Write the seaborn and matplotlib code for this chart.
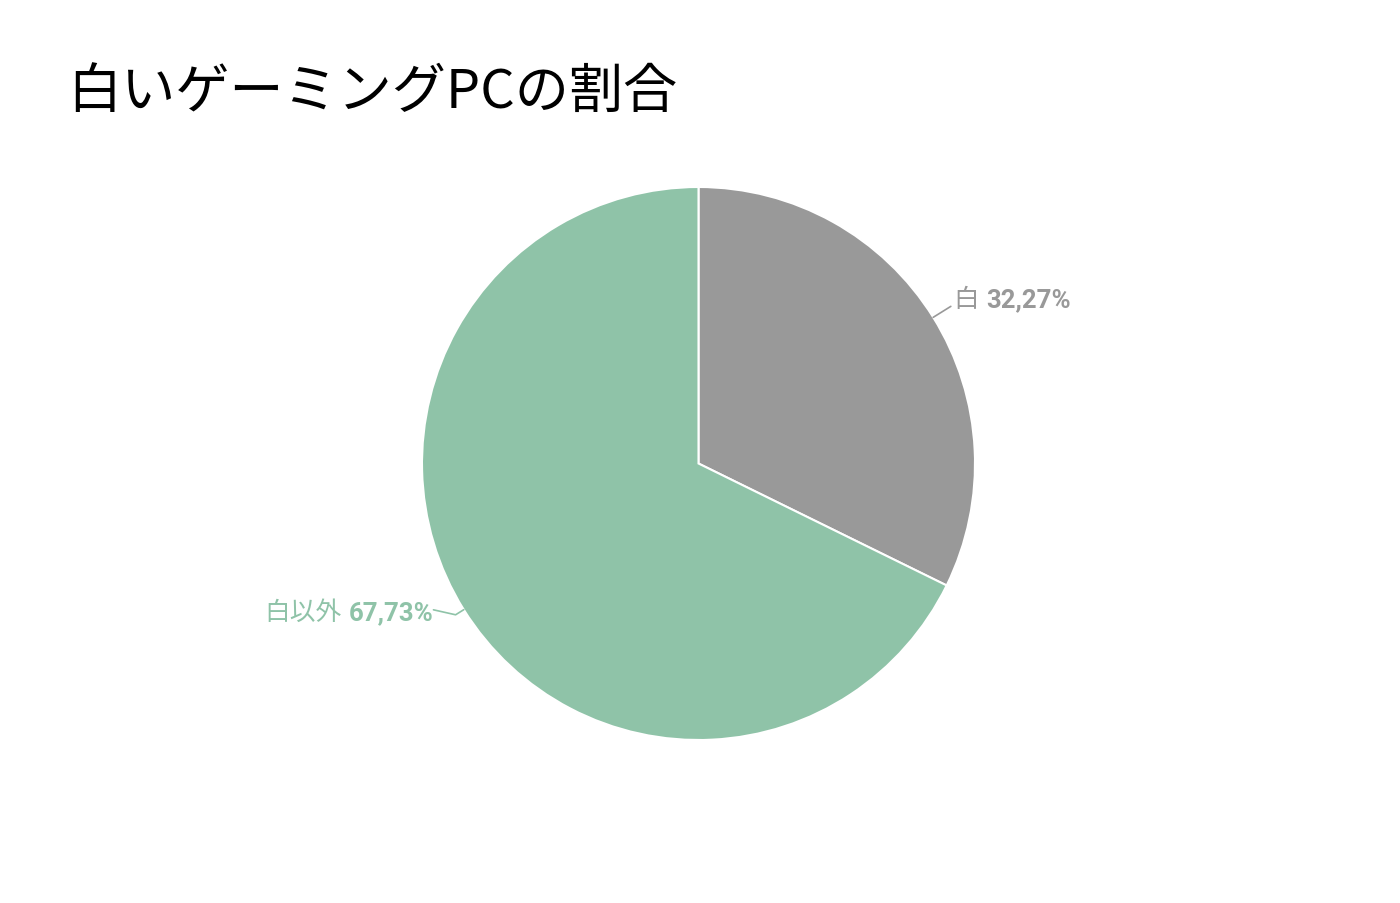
import numpy as np
import matplotlib
import matplotlib.pyplot as plt
import seaborn as sns

matplotlib.use('Agg')

# Data
labels = ['白', '白以外']
shares = [32.27, 67.73]
colors = ['#999999', '#8FC3A8']
title = '白いゲーミングPCの割合'

sns.set_theme(style='white')
plt.rcParams['font.family'] = ['Roboto', 'Noto Sans CJK JP', 'DejaVu Sans']

fig = plt.figure(figsize=(14, 9.04), dpi=100)
ax = fig.add_axes([422 / 1400, (904 - 741) / 904, 553 / 1400, 553 / 904])

wedges, _ = ax.pie(shares, colors=colors, startangle=90, counterclock=False,
                   wedgeprops=dict(edgecolor='white', linewidth=1.5))
ax.set_xlim(-1, 1)
ax.set_ylim(-1, 1)
ax.set_aspect('equal')
ax.axis('off')

lab_font = ['Roboto', 'Noto Sans CJK JP']
fs = 18.5

# Labels with leader lines
for w, lab, val, col in zip(wedges, labels, shares, colors):
    ang = np.deg2rad((w.theta1 + w.theta2) / 2)
    x0, y0 = np.cos(ang), np.sin(ang)
    pct = f'{val:.2f}%'.replace('.', ',')
    if x0 >= 0:
        x1, y1 = 1.075 * x0, 1.075 * y0
        ax.plot([x0, x1], [y0, y1], color=col, lw=1.2, clip_on=False)
        t1 = ax.annotate(lab, xy=(x1, y1), xytext=(2, 5), textcoords='offset points',
                         ha='left', va='center', color=col, fontsize=fs,
                         family=lab_font, annotation_clip=False)
        ax.annotate(pct, xy=(1, 0.5), xycoords=t1, xytext=(5, 0), textcoords='offset points',
                    ha='left', va='center', color=col, fontsize=fs, fontweight='bold',
                    family=lab_font)
    else:
        x1, y1 = 1.035 * x0, 1.035 * y0
        x2, y2 = x1 - 0.08, y1 + 0.018
        ax.plot([x0, x1, x2], [y0, y1, y2], color=col, lw=1.2, clip_on=False)
        t1 = ax.annotate(pct, xy=(x2, y2), xytext=(0, -1.5), textcoords='offset points',
                         ha='right', va='center', color=col, fontsize=fs, fontweight='bold',
                         family=lab_font, annotation_clip=False)
        ax.annotate(lab, xy=(0, 0.5), xycoords=t1, xytext=(-5, 0), textcoords='offset points',
                    ha='right', va='center', color=col, fontsize=fs,
                    family=lab_font)

fig.text(67 / 1400, 1 - 92 / 904, title, ha='left', va='center', fontsize=39,
         color='black', family=['Noto Sans CJK JP', 'DejaVu Sans'])

plt.savefig('out.png', dpi=100, facecolor='white')
